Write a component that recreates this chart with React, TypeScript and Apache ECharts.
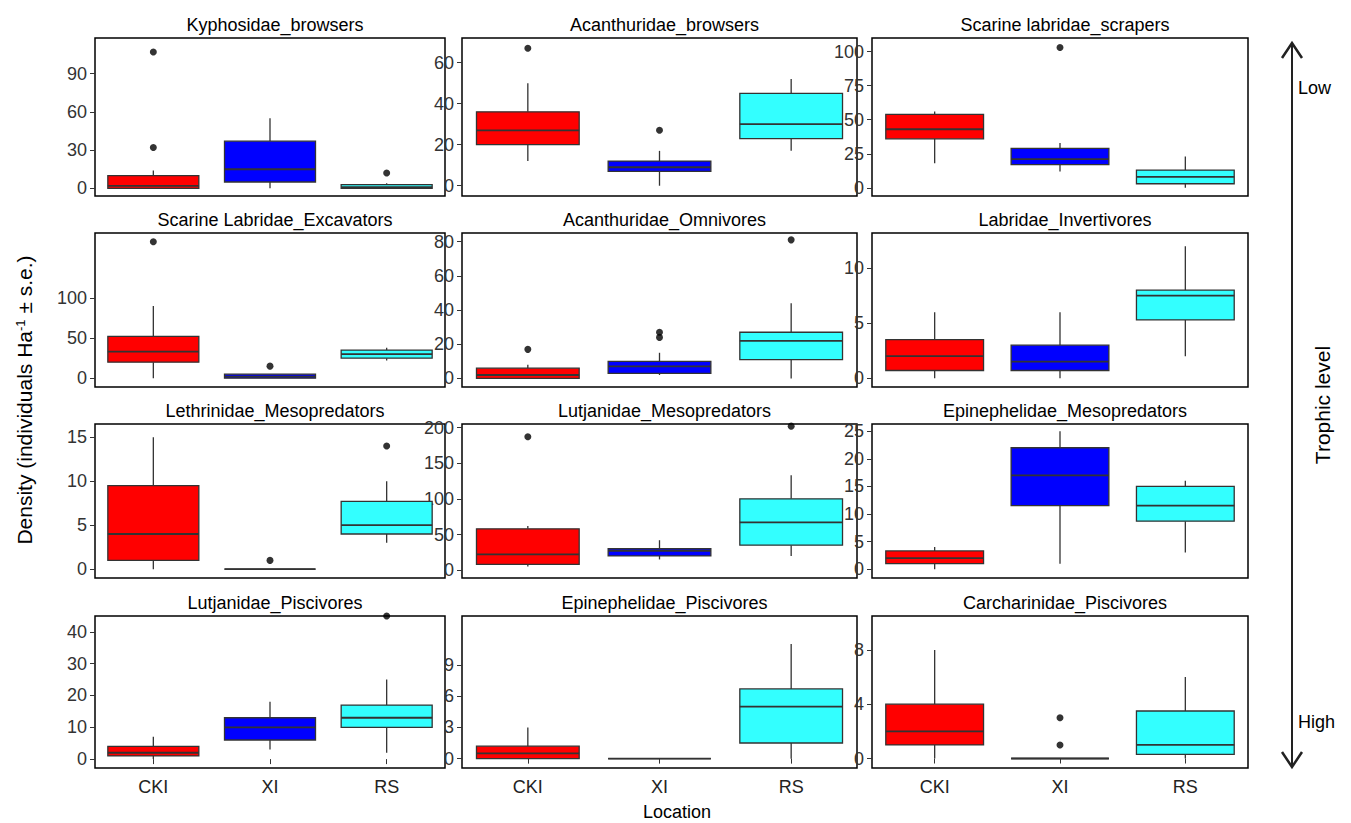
import React, { useEffect, useRef } from "react";
import * as echarts from "echarts";

const locations = ["CKI", "XI", "RS"];
const locationColors = ["#ff0000", "#0000ff", "#33ffff"];

const panelTitles = [
  "Kyphosidae_browsers", "Acanthuridae_browsers", "Scarine labridae_scrapers",
  "Scarine Labridae_Excavators", "Acanthuridae_Omnivores", "Labridae_Invertivores",
  "Lethrinidae_Mesopredators", "Lutjanidae_Mesopredators", "Epinephelidae_Mesopredators",
  "Lutjanidae_Piscivores", "Epinephelidae_Piscivores", "Carcharinidae_Piscivores",
];

// [min, Q1, median, Q3, max] for CKI, XI, RS
const boxStats = [
  [[0, 0, 2, 10, 14], [0, 5, 15, 37, 55], [0, 0, 1, 3, 4]],
  [[12, 20, 27, 36, 50], [0, 7, 9, 12, 17], [17, 23, 30, 45, 52]],
  [[18, 36, 43, 54, 56], [12, 17, 21, 29, 33], [0, 3, 8, 13, 23]],
  [[0, 20, 33, 52, 90], [0, 0, 2, 5, 5], [22, 25, 30, 35, 38]],
  [[0, 0, 2, 6, 8], [2, 3, 7, 10, 15], [0, 11, 22, 27, 44]],
  [[0, 0.7, 2, 3.5, 6], [0, 0.7, 1.5, 3, 6], [2, 5.3, 7.5, 8, 12]],
  [[0, 1, 4, 9.5, 15], [0, 0, 0, 0, 0], [3, 4, 5, 7.7, 10]],
  [[5, 8, 22, 58, 62], [15, 20, 27, 30, 42], [20, 35, 67, 100, 133]],
  [[0, 1, 2, 3.3, 4], [1, 11.5, 17, 22, 25], [3, 8.7, 11.5, 15, 16]],
  [[0, 1, 2, 4, 7], [3, 6, 10, 13, 18], [2, 10, 13, 17, 25]],
  [[0, 0, 0.5, 1.2, 3], [0, 0, 0, 0, 0], [0, 1.5, 5, 6.7, 11]],
  [[0, 1, 2, 4, 8], [0, 0, 0, 0, 0], [0, 0.3, 1, 3.5, 6]],
];

// outliers as [locationIndex, value]
const outliers = [
  [[0, 107], [0, 32], [2, 12]],
  [[0, 67], [1, 27]],
  [[1, 103]],
  [[0, 170], [1, 15]],
  [[0, 17], [1, 24], [1, 27], [2, 81]],
  [],
  [[1, 1], [2, 14]],
  [[0, 187], [2, 202]],
  [],
  [[2, 45]],
  [],
  [[1, 1], [1, 3]],
];

const yRanges = [
  [-6, 118], [-5, 72], [-6, 110], [-11, 181], [-5, 85], [-0.8, 13.2],
  [-1, 16.5], [-11, 205], [-1.6, 26.3], [-2.8, 45], [-0.9, 13.7], [-0.7, 10.5],
];
const yTicks = [
  [0, 30, 60, 90], [0, 20, 40, 60], [0, 25, 50, 75, 100], [0, 50, 100],
  [0, 20, 40, 60, 80], [0, 5, 10], [0, 5, 10, 15], [0, 50, 100, 150, 200],
  [0, 5, 10, 15, 20, 25], [0, 10, 20, 30, 40], [0, 3, 6, 9], [0, 4, 8],
];

const colLeft = [95, 462, 872];
const colWidth = [350, 395, 376];
const rowTop = [38, 233, 424, 616];
const rowHeight = [158, 154, 154, 152];

const FONT = "Liberation Sans";

// ggplot-style box without whisker caps
const renderBox = (params: any, api: any) => {
  const x = api.value(0);
  const vals = [1, 2, 3, 4, 5].map((d) => api.value(d));
  const pts = vals.map((v) => api.coord([x, v]));
  const cx = pts[0][0];
  const bw = api.size([1, 0])[0] * 0.78;
  const stroke = { stroke: "#333", lineWidth: 1.3 };
  return {
    type: "group",
    children: [
      { type: "line", shape: { x1: cx, y1: pts[0][1], x2: cx, y2: pts[1][1] }, style: stroke },
      { type: "line", shape: { x1: cx, y1: pts[3][1], x2: cx, y2: pts[4][1] }, style: stroke },
      {
        type: "rect",
        shape: { x: cx - bw / 2, y: pts[3][1], width: bw, height: Math.max(pts[1][1] - pts[3][1], 0) },
        style: { ...stroke, fill: locationColors[x] },
      },
      { type: "line", shape: { x1: cx - bw / 2, y1: pts[2][1], x2: cx + bw / 2, y2: pts[2][1] }, style: { stroke: "#333", lineWidth: 1.8 } },
    ],
  };
};

const App: React.FC = () => {
  const ref = useRef<HTMLDivElement>(null);

  useEffect(() => {
    document.body.style.margin = "0";
    if (!ref.current) return;
    const chart = echarts.init(ref.current, undefined, { renderer: "svg" });

    const grids: any[] = [];
    const xAxes: any[] = [];
    const yAxes: any[] = [];
    const series: any[] = [];
    const titles: any[] = [];

    panelTitles.forEach((t, i) => {
      const r = Math.floor(i / 3);
      const c = i % 3;
      grids.push({
        left: colLeft[c], top: rowTop[r], width: colWidth[c], height: rowHeight[r],
        show: true, borderColor: "#000", borderWidth: 1.5, backgroundColor: "#fff",
      });
      titles.push({
        text: t, left: colLeft[c] + colWidth[c] / 2, top: rowTop[r] - 27, textAlign: "center",
        textStyle: { fontFamily: FONT, fontSize: 18, fontWeight: "normal", color: "#000" },
      });
      xAxes.push({
        type: "category", gridIndex: i, data: locations,
        axisLine: { show: false },
        axisTick: { show: r === 3, alignWithLabel: true, length: 5, lineStyle: { color: "#333" } },
        axisLabel: { show: r === 3, fontFamily: FONT, fontSize: 18, color: "#222", margin: 10 },
      });
      yAxes.push({
        type: "value", gridIndex: i, min: yRanges[i][0], max: yRanges[i][1],
        splitLine: { show: false },
        axisLine: { show: false },
        axisTick: { show: true, length: 5, customValues: yTicks[i], lineStyle: { color: "#333" } },
        axisLabel: { fontFamily: FONT, fontSize: 18, color: "#333", customValues: yTicks[i], margin: 8 },
      });
      series.push({
        type: "custom", xAxisIndex: i, yAxisIndex: i, renderItem: renderBox,
        encode: { x: 0, y: [1, 2, 3, 4, 5] },
        data: boxStats[i].map((v, k) => [k, ...v]),
      });
      series.push({
        type: "scatter", xAxisIndex: i, yAxisIndex: i, symbolSize: 7,
        itemStyle: { color: "#000" },
        data: outliers[i].map(([k, v]) => [locations[k], v]),
      });
    });

    chart.setOption({
      animation: false,
      title: titles,
      grid: grids,
      xAxis: xAxes,
      yAxis: yAxes,
      series,
      graphic: [
        {
          type: "text", x: 24, y: 400, rotation: Math.PI / 2,
          style: {
            text: "{a|Density (individuals Ha}{s|-1}{a| ± s.e.)}",
            rich: {
              a: { fontFamily: FONT, fontSize: 21, fill: "#000" },
              s: { fontFamily: FONT, fontSize: 13, fill: "#000", verticalAlign: "top", padding: [0, 0, 8, 0] },
            },
            align: "center", verticalAlign: "middle",
          },
        },
        {
          type: "text", x: 677, y: 812,
          style: { text: "Location", fontFamily: FONT, fontSize: 18, fill: "#000", align: "center", verticalAlign: "middle" },
        },
        { type: "line", shape: { x1: 1292, y1: 45, x2: 1292, y2: 765 }, style: { stroke: "#222", lineWidth: 2 } },
        { type: "polyline", shape: { points: [[1282, 58], [1292, 43], [1302, 58]] }, style: { stroke: "#222", lineWidth: 2.5, fill: "none" } },
        { type: "polyline", shape: { points: [[1282, 752], [1292, 767], [1302, 752]] }, style: { stroke: "#222", lineWidth: 2.5, fill: "none" } },
        { type: "text", x: 1298, y: 88, style: { text: "Low", fontFamily: FONT, fontSize: 18, fill: "#000", verticalAlign: "middle" } },
        { type: "text", x: 1298, y: 722, style: { text: "High", fontFamily: FONT, fontSize: 18, fill: "#000", verticalAlign: "middle" } },
        {
          type: "text", x: 1322, y: 405, rotation: Math.PI / 2,
          style: { text: "Trophic level", fontFamily: FONT, fontSize: 21, fill: "#000", align: "center", verticalAlign: "middle" },
        },
      ],
    });

    return () => chart.dispose();
  }, []);

  return <div ref={ref} style={{ width: "1351px", height: "823px" }} />;
};

export default App;
